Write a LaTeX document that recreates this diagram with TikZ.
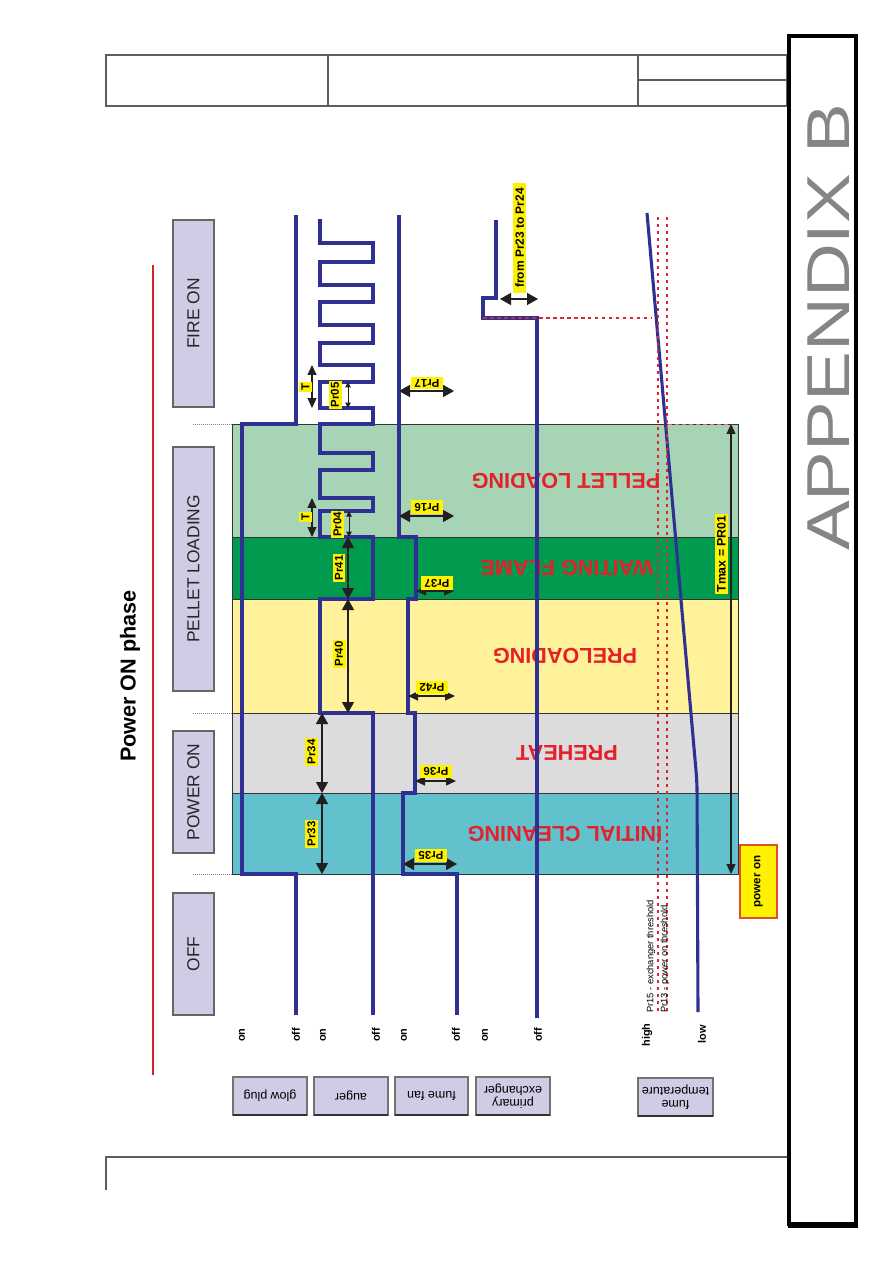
\documentclass[tikz,border=0pt]{standalone}
\usepackage{fontspec}
\setmainfont{Liberation Sans}
\usetikzlibrary{arrows.meta}
\definecolor{sig}{HTML}{2E3192}
\definecolor{ylw}{HTML}{FFF200}
\definecolor{lav}{HTML}{CFCDE6}
\definecolor{redtx}{HTML}{E4202A}
\definecolor{gPL}{HTML}{A7D4B4}
\definecolor{gWF}{HTML}{009B4E}
\definecolor{yPR}{HTML}{FFF29B}
\definecolor{gPH}{HTML}{DCDCDC}
\definecolor{cIC}{HTML}{63C1CE}
\definecolor{arrc}{HTML}{231F20}
\definecolor{rdot}{HTML}{D52A33}
\definecolor{hdr}{HTML}{5E5E5E}
\definecolor{appx}{HTML}{858585}
\definecolor{ttlred}{HTML}{D62027}
\definecolor{pwrb}{HTML}{E0502A}
\newcommand{\myfs}[1]{\fontsize{#1}{#1}\selectfont}
\begin{document}
\begin{tikzpicture}[x=0.02cm,y=-0.02cm,
 sigline/.style={draw=sig,line width=0.062cm,line join=miter},
 bandline/.style={draw=black!80,line width=0.02cm},
 phasebox/.style={draw=black!60,fill=lav,line width=0.03cm},
 phasetxt/.style={rotate=90,text=black!85,font=\myfs{9.9}},
 redlab/.style={rotate=180,text=redtx,font=\myfs{12.3}\bfseries,inner sep=0pt},
 ylab/.style={fill=ylw,inner xsep=0.7pt,inner ysep=1.4pt,font=\myfs{6.5}\bfseries,text=black},
 ylabv/.style={ylab,rotate=90},
 ylabh/.style={ylab,rotate=180,inner xsep=2pt},
 dimarr/.style={draw=arrc,line width=0.028cm,{Triangle[width=0.24cm,length=0.22cm]}-{Triangle[width=0.24cm,length=0.22cm]}},
 midarr/.style={draw=arrc,line width=0.025cm,{Triangle[width=0.18cm,length=0.2cm]}-{Triangle[width=0.18cm,length=0.2cm]}},
 smallarr/.style={draw=arrc,line width=0.02cm,{Triangle[width=0.11cm,length=0.11cm]}-{Triangle[width=0.11cm,length=0.11cm]}},
 onoff/.style={rotate=90,font=\myfs{6.2}\bfseries,inner sep=0pt},
 sigbox/.style={draw=black!55,fill=lav,line width=0.025cm},
 sigtxt/.style={rotate=180,font=\myfs{7.1},align=center,inner sep=0pt},
 reddots/.style={draw=rdot,line width=0.055cm,dash pattern=on 0.07cm off 0.07cm},
 graydots/.style={draw=black!50,line width=0.015cm,dash pattern=on 0.02cm off 0.02cm}
]
\useasboundingbox (0,0) rectangle (892,1263);
\fill[white] (0,0) rectangle (892,1263);

% header table and footer
\draw[hdr,line width=0.022cm] (106,55) rectangle (787,106);
\draw[hdr,line width=0.022cm] (328,55) -- (328,106);
\draw[hdr,line width=0.022cm] (638,55) -- (638,106);
\draw[hdr,line width=0.022cm] (638,80) -- (787,80);
\draw[hdr,line width=0.022cm] (106,1190) -- (106,1157) -- (787,1157);

% right frame
\draw[black,line width=0.075cm] (789,36) rectangle (856,1224);
\draw[black,line width=0.06cm] (788,1226) -- (858,1226);
\node (appx) [rotate=90,text=appx,font=\myfs{34.5},inner sep=0pt] at (829,327) {\scalebox{1.23}[1]{APPENDIX B}};

% title
\node (title) [rotate=90,font=\myfs{12.3}\bfseries] at (130,676) {Power ON phase};
\draw[ttlred,line width=0.055cm] (153,265) -- (153,1075);

% phase boxes
\draw[phasebox] (173,220) rectangle (214,407);
\node (tFIRE) [phasetxt] at (193.5,313.5) {FIRE ON};
\draw[phasebox] (173,447) rectangle (214,691);
\node (tPELL) [phasetxt] at (193.5,569) {PELLET LOADING};
\draw[phasebox] (173,731) rectangle (214,853);
\node (tPON) [phasetxt] at (193.5,792) {POWER ON};
\draw[phasebox] (173,893) rectangle (214,1015);
\node (tOFF) [phasetxt] at (193.5,954) {OFF};
\draw[graydots] (193,424) -- (232,424);
\draw[graydots] (193,713) -- (232,713);
\draw[graydots] (193,874) -- (232,874);

% bands
\fill[gPL] (232,424) rectangle (738,537);
\fill[gWF] (232,537) rectangle (738,599);
\fill[yPR] (232,599) rectangle (738,713);
\fill[gPH] (232,713) rectangle (738,793);
\fill[cIC] (232,793) rectangle (738,874);
\draw[bandline] (232,424) rectangle (738,874);
\draw[bandline] (232,537) -- (738,537);
\draw[bandline] (232,599) -- (738,599);
\draw[bandline] (232,713) -- (738,713);
\draw[bandline] (232,793) -- (738,793);

\node (rPL) [redlab] at (566,481) {PELLET LOADING};
\node (rWF) [redlab] at (567,568) {WAITING FLAME};
\node (rPR) [redlab] at (565,656) {PRELOADING};
\node (rPH) [redlab] at (567,753) {PREHEAT};
\node (rIC) [redlab] at (565,834) {INITIAL CLEANING};

% signal lines
\draw[sigline] (296,215) -- (296,424) -- (242,424) -- (242,874) -- (296,874) -- (296,1015);
\draw[sigline] (320,219) -- (320,243) -- (373,243) -- (373,262) -- (320,262) -- (320,285)
  -- (373,285) -- (373,302) -- (320,302) -- (320,325) -- (373,325) -- (373,343)
  -- (320,343) -- (320,365) -- (373,365) -- (373,382) -- (320,382) -- (320,408)
  -- (373,408) -- (373,424) -- (320,424) -- (320,453) -- (373,453) -- (373,470)
  -- (320,470) -- (320,498) -- (373,498) -- (373,511) -- (320,511) -- (320,537)
  -- (373,537) -- (373,599) -- (320,599) -- (320,713) -- (373,713) -- (373,1015);
\draw[sigline] (399,215) -- (399,537) -- (416,537) -- (416,599) -- (408,599) -- (408,713)
  -- (415,713) -- (415,793) -- (403,793) -- (403,874) -- (457,874) -- (457,1015);
\draw[sigline] (496,220) -- (496,298) -- (483,298) -- (483,318) -- (537,318) -- (537,1018);
\draw[sigline,rounded corners=0.2cm] (647,213) -- (697,782) -- (698,1012);

% thresholds
\draw[reddots] (658,217) -- (658,1012);
\draw[reddots] (667,217) -- (667,1012);
\draw[reddots] (483,318) -- (652,318);
\draw[draw=rdot!70,line width=0.02cm,dash pattern=on 0.08cm off 0.06cm] (668,424) -- (731,424);

% auger / glow plug dimensions
\draw[midarr] (312,365) -- (312,408);
\node (T1) [ylabv] at (305.5,387) {T};
\draw[smallarr] (348,382) -- (348,408);
\node (p05) [ylabv] at (335,395) {Pr05};
\draw[midarr] (312,498) -- (312,537);
\node (T2) [ylabv] at (305.5,517) {T};
\draw[smallarr] (349,511) -- (349,537);
\node (p04) [ylabv] at (337.5,524.5) {Pr04};
\draw[dimarr] (348,537) -- (348,599);
\node (p41) [ylabv] at (339,568) {Pr41};
\draw[dimarr] (348,599) -- (348,713);
\node (p40) [ylabv] at (339,654) {Pr40};
\draw[dimarr] (322,713) -- (322,793);
\node (p34) [ylabv] at (311.5,752) {Pr34};
\draw[dimarr] (322,793) -- (322,874);
\node (p33) [ylabv] at (311.5,834) {Pr33};

% fume fan dimensions
\draw[dimarr] (399,391) -- (454,391);
\node (p17) [ylabh] at (427,383) {Pr17};
\draw[dimarr] (399,516) -- (454,516);
\node (p16) [ylabh] at (427,507) {Pr16};
\draw[midarr] (416,591) -- (454,591);
\node (p37) [ylabh] at (437,583) {Pr37};
\draw[midarr] (408,696) -- (455,696);
\node (p42) [ylabh] at (432,687.5) {Pr42};
\draw[midarr] (415,781) -- (456,781);
\node (p36) [ylabh] at (436,771.5) {Pr36};
\draw[dimarr] (403,864) -- (457,864);
\node (p35) [ylabh] at (431,855.5) {Pr35};

% exchanger
\draw[dimarr] (500,299) -- (538,299);
\node (p2324) [ylabv,inner xsep=3pt,font=\myfs{6.8}\bfseries] at (519.5,238) {from Pr23 to Pr24};

% Tmax
\draw[midarr] (731,424) -- (731,874);
\node (tmax) [ylabv,inner xsep=1pt,font=\myfs{7}\bfseries] at (721.5,554) {Tmax = PR01};
\draw[fill=ylw,draw=pwrb,line width=0.03cm] (740,845) rectangle (777,918);
\node (pwron) [rotate=90,font=\myfs{6.6}\bfseries] at (758.5,881.5) {power on};

% threshold texts
\node (th15) [rotate=90,anchor=west,font=\myfs{5.3},inner sep=0pt] at (651,1013) {Pr15 - exchanger threshold};
\node (th13) [rotate=90,anchor=west,font=\myfs{5.3},inner sep=0pt] at (665,1013) {Pr13 - power on threshold};

% on / off labels
\node (on1) [onoff] at (242,1035) {on};
\node (off1) [onoff] at (296,1035) {off};
\node (on2) [onoff] at (323,1035) {on};
\node (off2) [onoff] at (376,1035) {off};
\node (on3) [onoff] at (404,1035) {on};
\node (off3) [onoff] at (456,1035) {off};
\node (on4) [onoff] at (485,1035) {on};
\node (off4) [onoff] at (538,1035) {off};
\node (hi) [onoff] at (647,1035) {high};
\node (lo) [onoff] at (702,1034) {low};

% signal name boxes
\draw[sigbox] (233,1077) rectangle (307,1115);
\draw[black!80,line width=0.05cm] (233,1115) -- (307,1115);
\node (nGP) [sigtxt] at (270,1096) {glow plug};
\draw[sigbox] (314,1077) rectangle (388,1115);
\draw[black!80,line width=0.05cm] (314,1115) -- (388,1115);
\node (nAU) [sigtxt] at (351,1096) {auger};
\draw[sigbox] (395,1077) rectangle (468,1115);
\draw[black!80,line width=0.05cm] (395,1115) -- (468,1115);
\node (nFF) [sigtxt] at (431.5,1096) {fume fan};
\draw[sigbox] (476,1077) rectangle (550,1115);
\draw[black!80,line width=0.05cm] (476,1115) -- (550,1115);
\node (nPE) [sigtxt] at (513,1096) {primary\\exchanger};
\draw[sigbox] (638,1078) rectangle (713,1116);
\draw[black!80,line width=0.05cm] (638,1116) -- (713,1116);
\node (nFT) [sigtxt] at (675.5,1097) {fume\\temperature};
\end{tikzpicture}
\end{document}
